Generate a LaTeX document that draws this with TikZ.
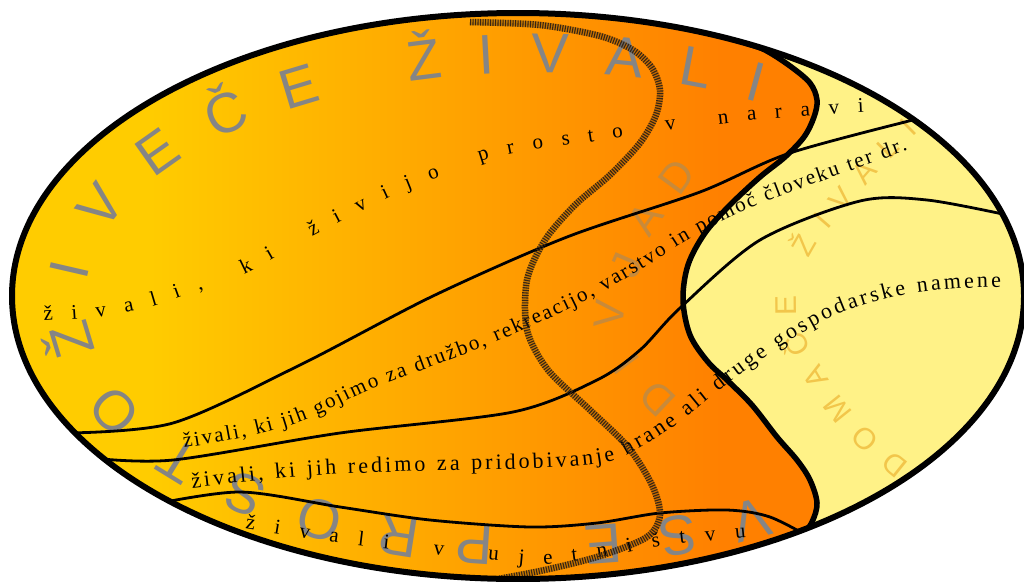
\documentclass[tikz,border=0pt]{standalone}
\usepackage{fontspec}
\setmainfont{Liberation Serif}
\newfontfamily\grsans{Liberation Sans}
\usetikzlibrary{decorations.text}
\definecolor{cyel}{RGB}{255,204,0}
\definecolor{corg}{RGB}{255,128,0}
\definecolor{clight}{RGB}{255,242,135}
\definecolor{cgray}{RGB}{133,133,133}
\definecolor{cdivj}{RGB}{200,138,58}
\definecolor{cdom}{RGB}{242,198,75}
\definecolor{chatchd}{RGB}{55,38,20}
\makeatletter
\newcount\crcnt
\newcount\cri
\newcommand\crpath[1]{%
  \global\crcnt=0
  \foreach \px/\py in {#1}{%
    \global\advance\crcnt by 1
    \expandafter\xdef\csname cr@x\the\crcnt\endcsname{\px}%
    \expandafter\xdef\csname cr@y\the\crcnt\endcsname{\py}%
  }%
  \xdef\crres{(\csname cr@x1\endcsname,\csname cr@y1\endcsname)}%
  \cri=1
  \loop
    \ifnum\cri<\crcnt
    \cr@seg
    \advance\cri by 1
  \repeat
}
\def\cr@seg{%
  \edef\cr@i{\the\cri}%
  \ifnum\cri=1 \edef\cr@p{1}\else\edef\cr@p{\the\numexpr\cri-1\relax}\fi
  \edef\cr@n{\the\numexpr\cri+1\relax}%
  \ifnum\numexpr\cri+2\relax>\crcnt \edef\cr@nn{\the\crcnt}\else\edef\cr@nn{\the\numexpr\cri+2\relax}\fi
  \pgfmathsetmacro\cr@ax{\csname cr@x\cr@i\endcsname+(\csname cr@x\cr@n\endcsname-\csname cr@x\cr@p\endcsname)/6}%
  \pgfmathsetmacro\cr@ay{\csname cr@y\cr@i\endcsname+(\csname cr@y\cr@n\endcsname-\csname cr@y\cr@p\endcsname)/6}%
  \pgfmathsetmacro\cr@bx{\csname cr@x\cr@n\endcsname-(\csname cr@x\cr@nn\endcsname-\csname cr@x\cr@i\endcsname)/6}%
  \pgfmathsetmacro\cr@by{\csname cr@y\cr@n\endcsname-(\csname cr@y\cr@nn\endcsname-\csname cr@y\cr@i\endcsname)/6}%
  \xdef\crres{\crres .. controls (\cr@ax,\cr@ay) and (\cr@bx,\cr@by) .. (\csname cr@x\cr@n\endcsname,\csname cr@y\cr@n\endcsname)}%
}
\makeatother
\begin{document}
\begin{tikzpicture}[x=1pt,y=-1pt,line join=round,
  thinline/.style={line width=2.8pt, line cap=round},
  thickline/.style={line width=5.5pt, line cap=round},
  outline/.style={line width=6pt},
  hatchbase/.style={line width=6.5pt, black, opacity=0.22},
  hatchdash/.style={line width=6.5pt, chatchd, line cap=butt, dash pattern=on 1.1pt off 1.4pt},
  alongtext/.style={decorate, decoration={text along path, text align={fit to path}, text={#1}}}]
\fill[white] (0,0) rectangle (1024,581);
\useasboundingbox (0,0) rectangle (1024,581);
\begin{scope}
\clip (518,296) ellipse [x radius=506, y radius=283];
% background gradient
\fill[cyel] (0,0) rectangle (151,581);
\shade[left color=cyel, right color=corg] (150,0) rectangle (721,581);
\fill[corg] (720,0) rectangle (1024,581);
% domestic animals region
\fill[clight] plot[smooth, tension=0.55] coordinates {(745,43) (765,50) (790,66) (810,83) (817,100) (814,117) (804,137) (785,157) (760,177) (730,205) (705,233) (688,265) (683,300) (690,335) (708,362) (727,380) (752,405) (777,437) (797,460) (810,480) (817,503) (812,522) (800,540)} -- (1030,600) -- (1030,0) -- cycle;
% big light texts
\path[alongtext={|\grsans\fontsize{56}{56}\selectfont|VSE PROSTOŽIVEČE ŽIVALI}, decoration={text color=cgray}]
  (536,300) ++(59.5:451 and 227.5) arc[start angle=59.5, end angle=299.6, x radius=451, y radius=227.5];
\crpath{679/398, 656/376, 634/350, 624/322, 630/293, 641/268, 651/238, 670/210, 697/173}
\path[alongtext={|\grsans\fontsize{42}{42}\selectfont|DIVJAD}, decoration={text color=cdivj}] \crres;
\crpath{909/463, 886/444, 858/417, 834/387, 816/357, 800/325, 797/298, 805/268, 820/240, 850/205, 885/165, 918/132}
\path[alongtext={|\grsans\fontsize{30}{30}\selectfont|DOMAČE ŽIVALI}, decoration={text color=cdom}] \crres;
% black texts
\crpath{44/321, 100/317, 150/307, 200/290, 247/273, 310/238, 380/202, 430/181, 500/156, 583/143, 663/131, 747/121, 830/114, 864/112}
\path[alongtext={|\fontsize{21}{21}\selectfont|živali, ki živijo prosto v naravi}] \crres;
\crpath{184/448, 250/436, 305/420, 367/391, 433/366, 500/340, 587/300, 653/262, 693/237, 760/204, 847/172, 908/150}
\path[alongtext={|\fontsize{21}{21}\selectfont|živali, ki jih gojimo za družbo, rekreacijo, varstvo in pomoč človeku ter dr.}] \crres;
\crpath{192/488, 307/476, 423/471, 540/468, 607/462, 640/448, 677/424, 712/396, 765/357, 830/318, 893/297, 950/289, 1001/287}
\path[alongtext={|\fontsize{22}{22}\selectfont|živali, ki jih redimo za pridobivanje hrane ali druge gospodarske namene}] \crres;
\crpath{245/529, 307/539, 387/549, 490/560, 543/564, 610/556, 657/547, 707/541, 746/537}
\path[alongtext={|\fontsize{21}{21}\selectfont|živali v ujetništvu}] \crres;
% thin dividing lines
\draw[thinline] plot[smooth] coordinates {(66,433) (173,423) (300,365) (433,296) (567,237) (700,192) (790,153) (925,117)};
\draw[thinline] plot[smooth] coordinates {(92,458) (173,460) (340,433) (513,412) (597,380) (640,350) (680,308) (760,240) (860,201) (927,200) (1012,216)};
\draw[thinline] plot[smooth] coordinates {(150,505) (240,492) (340,507) (430,520) (530,527) (597,523) (660,513) (727,510) (770,517) (815,540)};
% hatched border of game animals
\foreach \st in {hatchbase,hatchdash}
  \draw[\st] plot[smooth] coordinates {(470,22) (540,25) (600,36) (633,50) (652,68) (660,90) (656,115) (640,143) (610,175) (575,205) (545,240) (527,280) (527,330) (548,370) (590,410) (628,447) (652,485) (660,515) (647,537) (600,556) (540,571) (470,584)};
% thick border of domestic animals
\draw[thickline] plot[smooth, tension=0.55] coordinates {(745,43) (765,50) (790,66) (810,83) (817,100) (814,117) (804,137) (785,157) (760,177) (730,205) (705,233) (688,265) (683,300) (690,335) (708,362) (727,380) (752,405) (777,437) (797,460) (810,480) (817,503) (812,522) (800,540)};
\end{scope}
% outline
\draw[outline] (518,296) ellipse [x radius=506, y radius=283];
\end{tikzpicture}
\end{document}
